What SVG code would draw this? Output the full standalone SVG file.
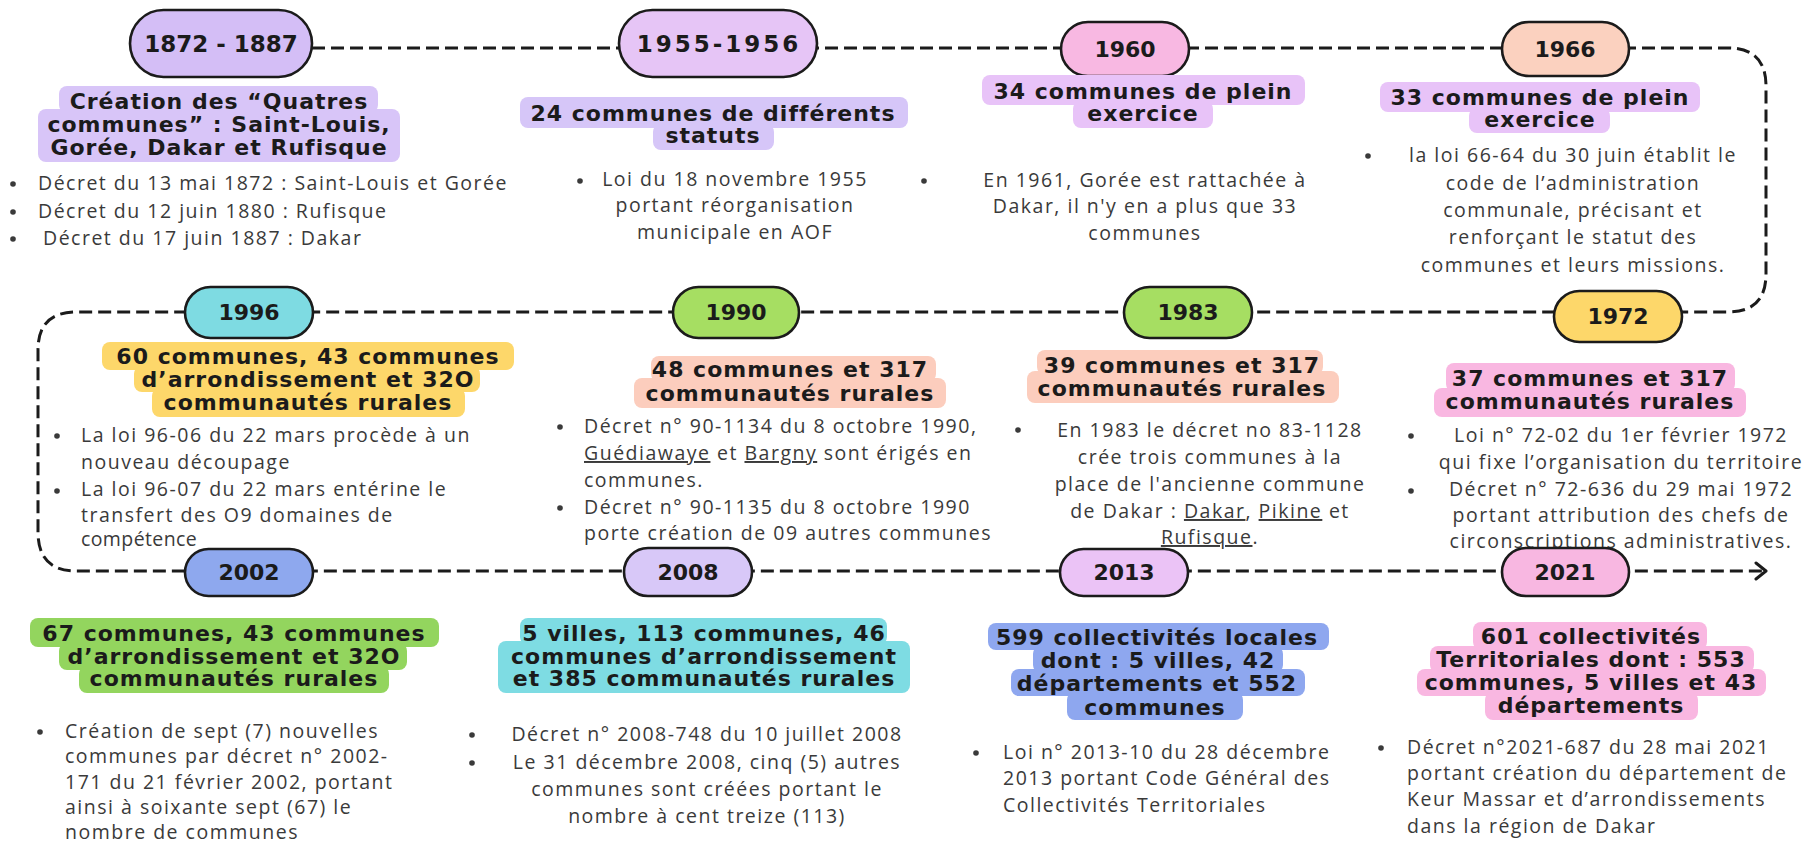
<svg xmlns="http://www.w3.org/2000/svg" width="1812" height="847" viewBox="0 0 1812 847">
<style>
.bg{fill:#ffffff}
.pill{stroke:#1b1b1b;stroke-width:2.6}
.yr{font-family:"DejaVu Sans",sans-serif;font-weight:bold;font-size:22px;fill:#1b1b1b;text-anchor:middle}
.hd{font-family:"DejaVu Sans",sans-serif;font-weight:bold;font-size:22px;letter-spacing:1px;fill:#1b1b1b;text-anchor:middle}
.bd{font-family:"Open Sans",sans-serif;font-size:19.5px;letter-spacing:1.5px;fill:#3a3a3a}
.c{text-anchor:middle}
.dot{fill:#3a3a3a}
.u{text-decoration:underline}
.link{fill:none;stroke:#1b1b1b;stroke-width:3;stroke-dasharray:13 6}
</style>
<defs>
<marker id="arr" viewBox="0 0 14 20" refX="12" refY="10" markerWidth="14" markerHeight="20" markerUnits="userSpaceOnUse" orient="auto">
<path d="M2 2 L12 10 L2 18" fill="none" stroke="#1b1b1b" stroke-width="3" stroke-linecap="round" stroke-linejoin="round"/>
</marker>
</defs>
<rect class="bg" x="0" y="0" width="1812" height="847"/>

<g id="connectors">
<path class="link" d="M312 48 H1728 Q1766 48 1766 86 V274 Q1766 312 1728 312 H76 Q38 312 38 350 V532 Q38 571 76 571 H1766" marker-end="url(#arr)"/>
</g>

<g id="n1872">
<rect class="pill" x="130" y="10" width="182" height="67" rx="33.5" fill="#D4BEF6"/>
<text class="yr" x="221" y="52" style="font-size:23px">1872 - 1887</text>
<rect x="59" y="86" width="319" height="27" rx="8" fill="#D8C5F8"/>
<rect x="38" y="109" width="362" height="53" rx="8" fill="#D8C5F8"/>
<text class="hd" x="219" y="109">Création des “Quatres</text>
<text class="hd" x="219" y="132">communes” : Saint-Louis,</text>
<text class="hd" x="219" y="155">Gorée, Dakar et Rufisque</text>
<circle class="dot" cx="13" cy="184" r="2.8"/>
<circle class="dot" cx="13" cy="212" r="2.8"/>
<circle class="dot" cx="13" cy="239" r="2.8"/>
<text class="bd" x="38" y="190">Décret du 13 mai 1872 : Saint-Louis et Gorée</text>
<text class="bd" x="38" y="218">Décret du 12 juin 1880 : Rufisque</text>
<text class="bd" x="43" y="245">Décret du 17 juin 1887 :  Dakar</text>
</g>

<g id="n1955">
<rect class="pill" x="619" y="10" width="198" height="67" rx="33.5" fill="#E6C5F6"/>
<text class="yr" x="719" y="52" style="letter-spacing:3px;font-size:23px">1955-1956</text>
<rect x="520" y="97" width="388" height="31" rx="8" fill="#D6C6F8"/>
<rect x="653" y="124" width="121" height="26" rx="8" fill="#D6C6F8"/>
<text class="hd" x="713" y="121">24 communes de différents</text>
<text class="hd" x="713" y="143">statuts</text>
<circle class="dot" cx="580" cy="181" r="2.8"/>
<text class="bd c" x="735" y="186">Loi du 18 novembre 1955</text>
<text class="bd c" x="735" y="212">portant réorganisation</text>
<text class="bd c" x="735" y="239">municipale en AOF</text>
</g>

<g id="n1960">
<rect class="pill" x="1061" y="22" width="128" height="54" rx="27" fill="#F8B8E2"/>
<text class="yr" x="1125" y="57">1960</text>
<rect x="982" y="75" width="323" height="30" rx="8" fill="#E8C3F8"/>
<rect x="1073" y="101" width="140" height="27" rx="8" fill="#E8C3F8"/>
<text class="hd" x="1143" y="99">34 communes de plein</text>
<text class="hd" x="1143" y="121">exercice</text>
<circle class="dot" cx="924" cy="181" r="2.8"/>
<text class="bd c" x="1145" y="187">En 1961, Gorée est rattachée à</text>
<text class="bd c" x="1145" y="213">Dakar, il n'y en a plus que 33</text>
<text class="bd c" x="1145" y="240">communes</text>
</g>

<g id="n1966">
<rect class="pill" x="1502" y="22" width="127" height="54" rx="27" fill="#FBD1BF"/>
<text class="yr" x="1565" y="57">1966</text>
<rect x="1380" y="82" width="320" height="30" rx="8" fill="#E8C3F8"/>
<rect x="1469" y="108" width="141" height="25" rx="8" fill="#E8C3F8"/>
<text class="hd" x="1540" y="105">33 communes de plein</text>
<text class="hd" x="1540" y="127">exercice</text>
<circle class="dot" cx="1368" cy="156" r="2.8"/>
<text class="bd c" x="1573" y="162">la loi 66-64 du 30 juin établit le</text>
<text class="bd c" x="1573" y="190">code de l’administration</text>
<text class="bd c" x="1573" y="217">communale, précisant et</text>
<text class="bd c" x="1573" y="244">renforçant le statut des</text>
<text class="bd c" x="1573" y="272">communes et leurs missions.</text>
</g>

<g id="n1996">
<rect class="pill" x="185" y="287" width="128" height="51" rx="25.5" fill="#7EDBE2"/>
<text class="yr" x="249" y="320">1996</text>
<rect x="102" y="342" width="412" height="28" rx="8" fill="#FDD76A"/>
<rect x="134" y="366" width="346" height="26" rx="8" fill="#FDD76A"/>
<rect x="152" y="388" width="313" height="29" rx="8" fill="#FDD76A"/>
<text class="hd" x="308" y="364">60 communes, 43 communes</text>
<text class="hd" x="308" y="387">d’arrondissement et 32O</text>
<text class="hd" x="308" y="410">communautés rurales</text>
<circle class="dot" cx="57" cy="436" r="2.8"/>
<circle class="dot" cx="57" cy="491" r="2.8"/>
<text class="bd" x="81" y="442">La loi 96-06 du 22 mars procède à un</text>
<text class="bd" x="81" y="469">nouveau découpage</text>
<text class="bd" x="81" y="496">La loi 96-07 du 22 mars entérine le</text>
<text class="bd" x="81" y="522">transfert des O9 domaines de</text>
<text class="bd" x="81" y="546" style="letter-spacing:0.4px">compétence</text>
</g>

<g id="n1990">
<rect class="pill" x="673" y="287" width="126" height="51" rx="25.5" fill="#A6DE62"/>
<text class="yr" x="736" y="320">1990</text>
<rect x="651" y="356" width="285" height="26" rx="8" fill="#FCCDBD"/>
<rect x="634" y="378" width="312" height="30" rx="8" fill="#FCCDBD"/>
<text class="hd" x="790" y="377">48 communes et 317</text>
<text class="hd" x="790" y="401">communautés rurales</text>
<circle class="dot" cx="560" cy="427" r="2.8"/>
<circle class="dot" cx="560" cy="508" r="2.8"/>
<text class="bd" x="584" y="433">Décret n° 90-1134 du 8 octobre 1990,</text>
<text class="bd" x="584" y="460"><tspan class="u">Guédiawaye</tspan> et <tspan class="u">Bargny</tspan> sont érigés en</text>
<text class="bd" x="584" y="487">communes.</text>
<text class="bd" x="584" y="514">Décret n° 90-1135 du 8 octobre 1990</text>
<text class="bd" x="584" y="540">porte création de 09 autres communes</text>
</g>

<g id="n1983">
<rect class="pill" x="1124" y="287" width="128" height="51" rx="25.5" fill="#A6DE62"/>
<text class="yr" x="1188" y="320">1983</text>
<rect x="1037" y="350" width="286" height="25" rx="8" fill="#FCCDBD"/>
<rect x="1027" y="371" width="312" height="32" rx="8" fill="#FCCDBD"/>
<text class="hd" x="1182" y="373">39 communes et 317</text>
<text class="hd" x="1182" y="396">communautés rurales</text>
<circle class="dot" cx="1018" cy="430" r="2.8"/>
<text class="bd c" x="1210" y="437">En 1983 le décret no 83-1128</text>
<text class="bd c" x="1210" y="464">crée trois communes à la</text>
<text class="bd c" x="1210" y="491">place de l'ancienne commune</text>
<text class="bd c" x="1210" y="518">de Dakar : <tspan class="u">Dakar</tspan>, <tspan class="u">Pikine</tspan> et</text>
<text class="bd c" x="1210" y="544"><tspan class="u">Rufisque</tspan>.</text>
</g>

<g id="n1972">
<rect class="pill" x="1554" y="291" width="128" height="51" rx="25.5" fill="#FDD76A"/>
<text class="yr" x="1618" y="324">1972</text>
<rect x="1446" y="363" width="289" height="29" rx="8" fill="#F9B7E1"/>
<rect x="1434" y="388" width="312" height="29" rx="8" fill="#F9B7E1"/>
<text class="hd" x="1590" y="386">37 communes et 317</text>
<text class="hd" x="1590" y="409">communautés rurales</text>
<circle class="dot" cx="1411" cy="436" r="2.8"/>
<circle class="dot" cx="1411" cy="491" r="2.8"/>
<text class="bd c" x="1621" y="442">Loi n° 72-02 du 1er février 1972</text>
<text class="bd c" x="1621" y="469">qui fixe l’organisation du territoire</text>
<text class="bd c" x="1621" y="496">Décret n° 72-636 du 29 mai 1972</text>
<text class="bd c" x="1621" y="522">portant attribution des chefs de</text>
<text class="bd c" x="1621" y="548">circonscriptions administratives.</text>
</g>

<g id="n2002">
<rect class="pill" x="185" y="549" width="128" height="47" rx="23.5" fill="#8EA8EE"/>
<text class="yr" x="249" y="580">2002</text>
<rect x="30" y="618" width="409" height="29" rx="8" fill="#93D55E"/>
<rect x="59" y="643" width="348" height="27" rx="8" fill="#93D55E"/>
<rect x="79" y="666" width="310" height="27" rx="8" fill="#93D55E"/>
<text class="hd" x="234" y="641">67 communes, 43 communes</text>
<text class="hd" x="234" y="664">d’arrondissement et 32O</text>
<text class="hd" x="234" y="686">communautés rurales</text>
<circle class="dot" cx="40" cy="732" r="2.8"/>
<text class="bd" x="65" y="738">Création de sept (7) nouvelles</text>
<text class="bd" x="65" y="763">communes par décret n° 2002-</text>
<text class="bd" x="65" y="789">171 du 21 février 2002, portant</text>
<text class="bd" x="65" y="814">ainsi à soixante sept (67) le</text>
<text class="bd" x="65" y="839">nombre de communes</text>
</g>

<g id="n2008">
<rect class="pill" x="624" y="548" width="128" height="48" rx="24" fill="#D8C8F8"/>
<text class="yr" x="688" y="580">2008</text>
<rect x="520" y="618" width="367" height="27" rx="8" fill="#7EDCE3"/>
<rect x="498" y="641" width="412" height="52" rx="8" fill="#7EDCE3"/>
<text class="hd" x="704" y="641">5 villes, 113 communes, 46</text>
<text class="hd" x="704" y="664">communes d’arrondissement</text>
<text class="hd" x="704" y="686">et 385 communautés rurales</text>
<circle class="dot" cx="472" cy="735" r="2.8"/>
<circle class="dot" cx="472" cy="763" r="2.8"/>
<text class="bd c" x="707" y="741">Décret n° 2008-748 du 10 juillet 2008</text>
<text class="bd c" x="707" y="769">Le 31 décembre 2008, cinq (5) autres</text>
<text class="bd c" x="707" y="796">communes sont créées portant le</text>
<text class="bd c" x="707" y="823">nombre à cent treize (113)</text>
</g>

<g id="n2013">
<rect class="pill" x="1060" y="549" width="128" height="47" rx="23.5" fill="#EBC3F6"/>
<text class="yr" x="1124" y="580">2013</text>
<rect x="988" y="623" width="341" height="27" rx="8" fill="#8EA7EF"/>
<rect x="1033" y="646" width="250" height="27" rx="8" fill="#8EA7EF"/>
<rect x="1011" y="669" width="294" height="27" rx="8" fill="#8EA7EF"/>
<rect x="1067" y="692" width="176" height="28" rx="8" fill="#8EA7EF"/>
<text class="hd" x="1157" y="645">599 collectivités locales</text>
<text class="hd" x="1158" y="668">dont : 5 villes, 42</text>
<text class="hd" x="1157" y="691">départements et 552</text>
<text class="hd" x="1155" y="715">communes</text>
<circle class="dot" cx="976" cy="753" r="2.8"/>
<text class="bd" x="1003" y="759">Loi n° 2013-10 du 28 décembre</text>
<text class="bd" x="1003" y="785">2013 portant Code Général des</text>
<text class="bd" x="1003" y="812">Collectivités Territoriales</text>
</g>

<g id="n2021">
<rect class="pill" x="1502" y="548" width="127" height="48" rx="24" fill="#F8B7E1"/>
<text class="yr" x="1565" y="580">2021</text>
<rect x="1473" y="622" width="234" height="28" rx="8" fill="#F9B7E1"/>
<rect x="1430" y="646" width="324" height="27" rx="8" fill="#F9B7E1"/>
<rect x="1417" y="669" width="349" height="27" rx="8" fill="#F9B7E1"/>
<rect x="1485" y="692" width="213" height="28" rx="8" fill="#F9B7E1"/>
<text class="hd" x="1591" y="644">601 collectivités</text>
<text class="hd" x="1591" y="667">Territoriales dont : 553</text>
<text class="hd" x="1591" y="690">communes, 5 villes et 43</text>
<text class="hd" x="1591" y="713">départements</text>
<circle class="dot" cx="1381" cy="748" r="2.8"/>
<text class="bd" x="1407" y="754">Décret n°2021-687 du 28 mai 2021</text>
<text class="bd" x="1407" y="780">portant création du département de</text>
<text class="bd" x="1407" y="806">Keur Massar et d’arrondissements</text>
<text class="bd" x="1407" y="833">dans la région de Dakar</text>
</g>
</svg>
